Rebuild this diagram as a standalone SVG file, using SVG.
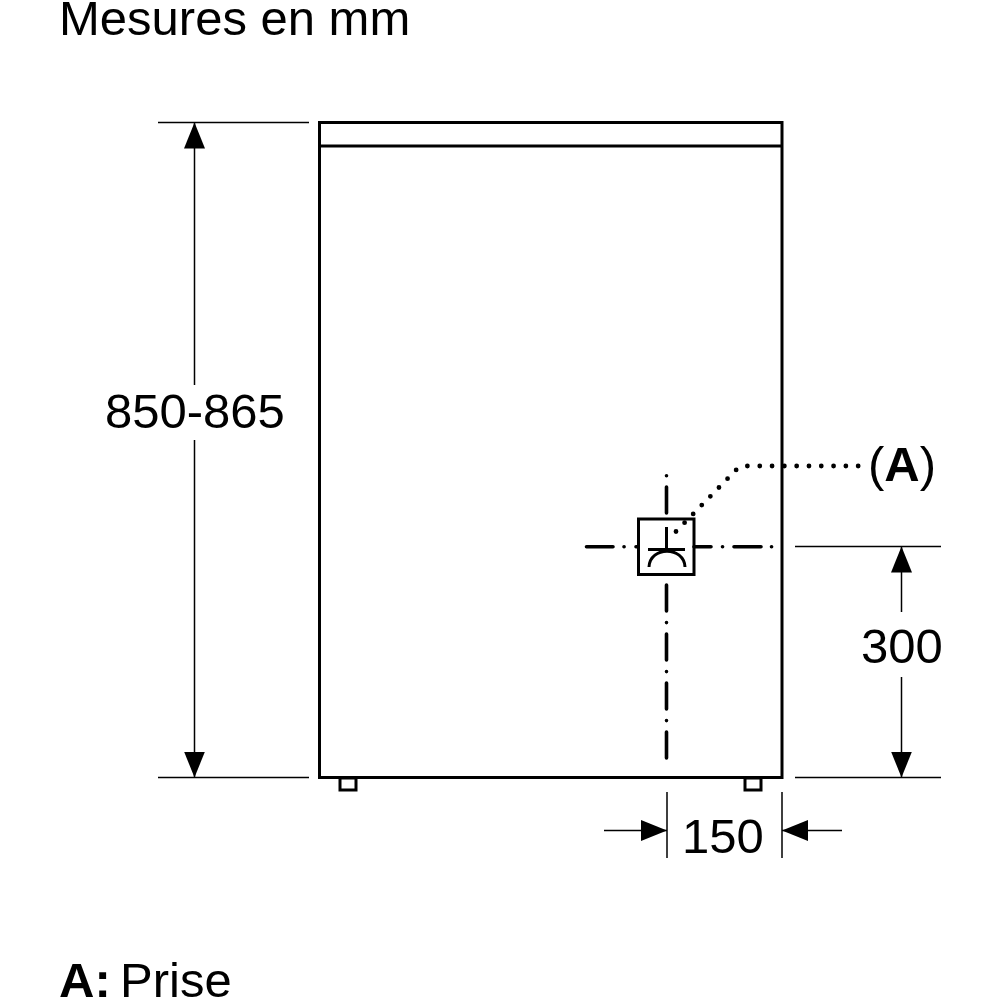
<svg xmlns="http://www.w3.org/2000/svg" width="1000" height="1000" viewBox="0 0 1000 1000">
<style>
text{font-family:"Liberation Sans",Arial,sans-serif;fill:#000}
.t{font-size:49px}
.thin{fill:none;stroke:#000;stroke-width:1.5}
.body{fill:none;stroke:#000;stroke-width:3}
.cl{fill:none;stroke:#000;stroke-width:3.6;stroke-linecap:round}
.dot{fill:none;stroke:#000;stroke-width:4.8;stroke-linecap:round;stroke-dasharray:0 12.3}
</style>
<defs>
<marker id="a" markerUnits="userSpaceOnUse" markerWidth="26" markerHeight="21" refX="26" refY="10.5" orient="auto-start-reverse" viewBox="0 0 26 21"><path d="M0 0L26 10.5L0 21Z" fill="#000"/></marker>
</defs>
<rect width="1000" height="1000" fill="#fff"/>
<text id="title" class="t" x="59" y="35">Mesures en mm</text>
<g id="cabinet">
<rect class="body" x="319.500" y="122.500" width="462.500" height="655"/>
<path class="body" d="M319.500 146H782"/>
<rect class="body" x="340" y="778" width="16" height="12"/>
<rect class="body" x="745" y="778" width="16" height="12"/>
</g>
<g id="socket">
<rect class="body" x="638.500" y="519" width="55.500" height="55.500"/>
<path class="body" d="M648 549.500H685M666.500 527V549.500M649 567C650 546 684 546 685 567"/>
</g>
<g id="connectors">
<path class="cl" d="M586.500 546.700H613M624 546.700H624.100M636 546.700H638M694 546.700H711M722.500 546.700H722.600M734 546.700H761M771.500 546.700H771.600"/>
<path class="cl" d="M666.500 475.700V475.800M666.500 487V513M666.500 585V611M666.500 622.500V622.600M666.500 634V660M666.500 671.500V671.600M666.500 683V709M666.500 720.500V720.600M666.500 732V758"/>
<path class="dot" d="M676 531.500L737 469Q740 466 748 466H862"/>
<path class="thin" d="M158 122.500H309M158 777.500H309M795 546.500H941M795 777.500H941M667 792V858M782 792V858"/>
<path class="thin" marker-start="url(#a)" d="M194.500 122.500V385"/>
<path class="thin" marker-end="url(#a)" d="M194.500 440V777.500"/>
<path class="thin" marker-start="url(#a)" d="M901.500 546.500V612"/>
<path class="thin" marker-end="url(#a)" d="M901.500 677V777.500"/>
<path class="thin" marker-end="url(#a)" d="M604 830.500H667"/>
<path class="thin" marker-end="url(#a)" d="M842 830.500H782"/>
</g>
<g id="labels">
<text class="t" x="105" y="428">850-865</text>
<text class="t" x="861" y="663">300</text>
<text class="t" x="682" y="853">150</text>
<text class="t" x="868" y="481"><tspan>(</tspan><tspan font-weight="700">A</tspan><tspan>)</tspan></text>
<text class="t" x="59" y="997"><tspan font-weight="700">A:</tspan><tspan x="120">Prise</tspan></text>
</g>
</svg>
